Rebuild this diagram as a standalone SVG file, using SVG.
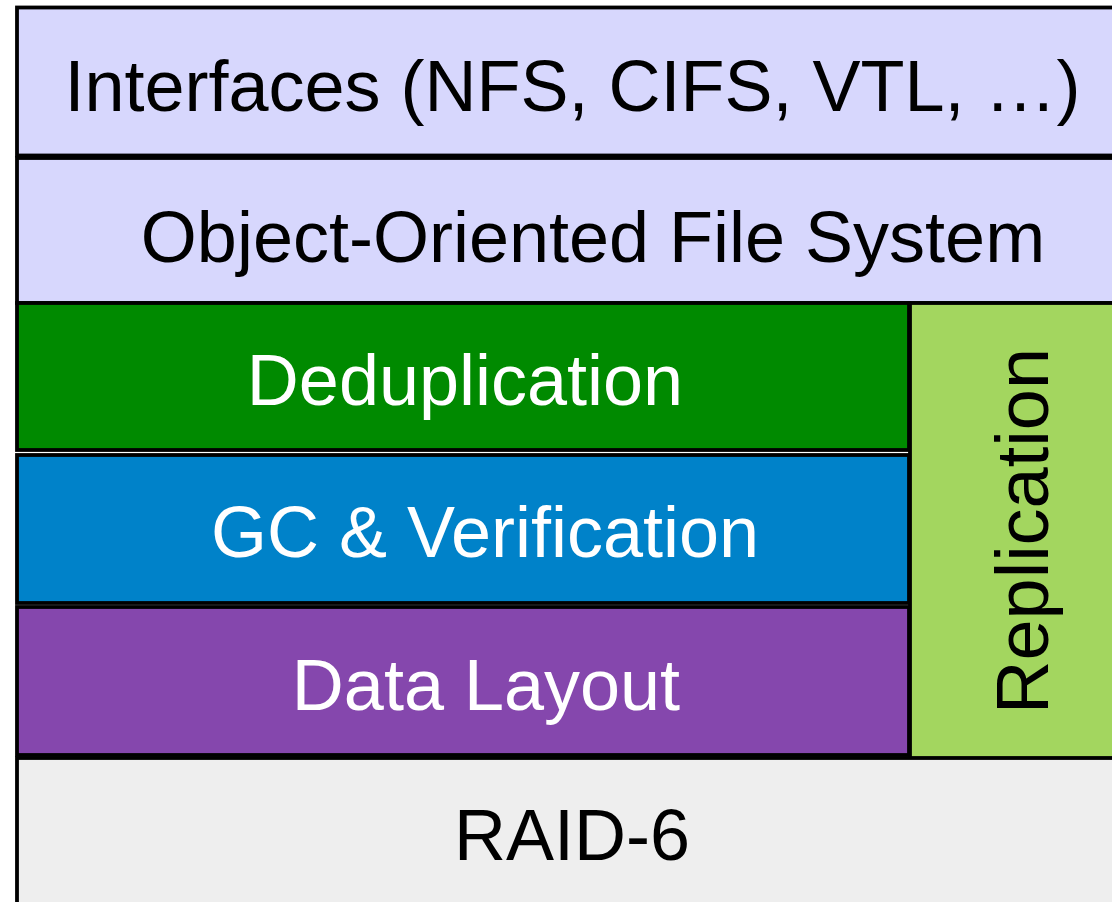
<svg xmlns="http://www.w3.org/2000/svg" width="1112" height="902" viewBox="0 0 1112 902">
<style>
.box{stroke:#000;stroke-width:3.8}
.t{font-family:"Liberation Sans",Arial,sans-serif;font-size:72px;text-anchor:middle}
.dark{fill:#000}
.light{fill:#fff}
</style>
<rect width="1112" height="902" fill="#fff"/>
<g id="interfaces"><rect class="box" x="17" y="7.5" width="1110" height="148" fill="#D7D7FD"/><text class="t dark" x="572.5" y="111">Interfaces (NFS, CIFS, VTL, …)</text></g>
<g id="oofs"><rect class="box" x="17" y="158" width="1110" height="145" fill="#D7D7FD"/><text class="t dark" x="593" y="262">Object-Oriented File System</text></g>
<g id="dedup"><rect class="box" x="17" y="303" width="892" height="147" fill="#008A00"/><text class="t light" x="465" y="405">Deduplication</text></g>
<g id="gc"><rect class="box" x="17" y="455" width="892" height="148" fill="#0082C9"/><text class="t light" x="485" y="557">GC &amp; Verification</text></g>
<g id="layout"><rect class="box" x="17" y="607" width="892" height="148" fill="#8547AD"/><text class="t light" x="486" y="710">Data Layout</text></g>
<g id="replication"><rect class="box" x="910" y="303" width="210" height="456" fill="#A3D65F"/><text class="t dark" style="font-size:74px" transform="translate(1048,531) rotate(-90)" x="0" y="0">Replication</text></g>
<g id="raid"><rect class="box" x="17" y="758" width="1110" height="160" fill="#EEEEEE"/><text class="t dark" x="572" y="860">RAID-6</text></g>
<g id="connectors"></g>
</svg>
